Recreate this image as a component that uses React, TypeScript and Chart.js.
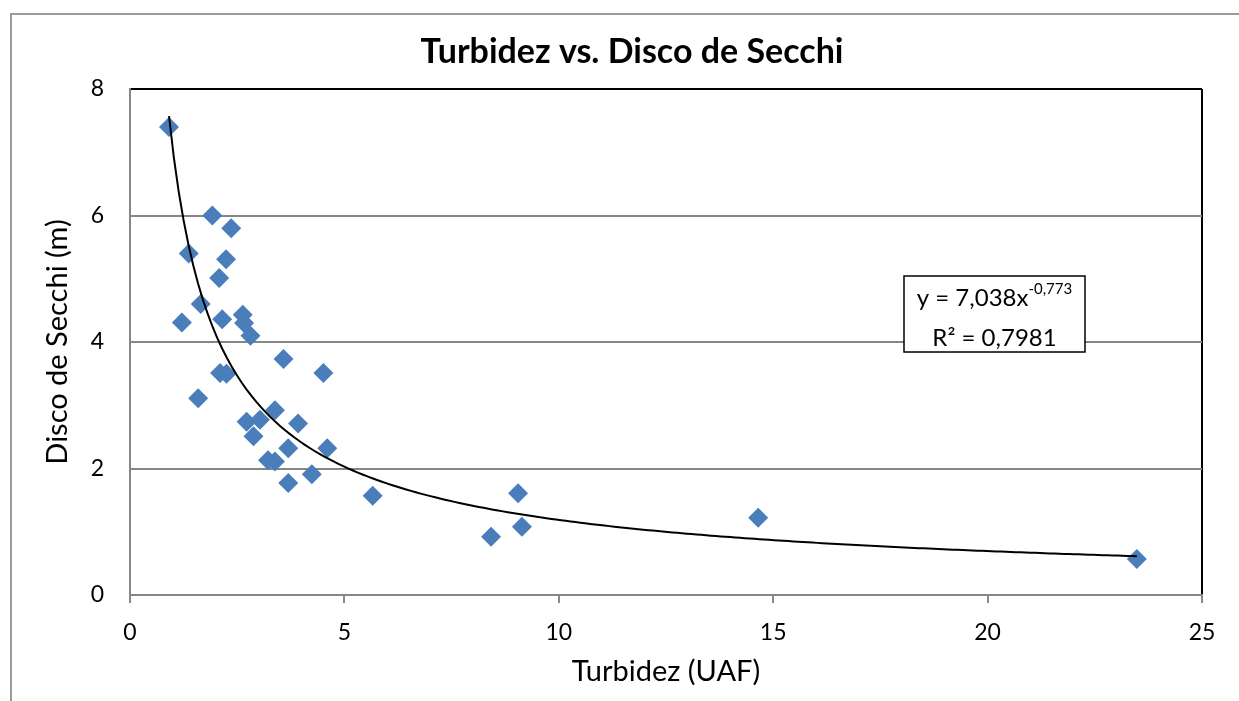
import React, { useEffect, useRef } from "react";
import { Chart, registerables } from "chart.js";

Chart.register(...registerables);

const TITLE = "Turbidez vs. Disco de Secchi";
const X_TITLE = "Turbidez (UAF)";
const Y_TITLE = "Disco de Secchi (m)";
const EQ_MAIN = "y = 7,038x";
const EQ_SUP = "-0,773";
const EQ_R2 = "R² = 0,7981";

const turbidez = [
  0.91, 1.92, 2.36, 1.37, 2.24, 2.08, 1.65, 1.21, 2.15, 2.63, 2.66, 2.81,
  3.58, 4.51, 2.1, 2.25, 1.59, 3.38, 2.72, 3.03, 3.92, 2.88, 3.69, 4.6,
  3.22, 3.38, 4.24, 3.69, 5.66, 8.42, 9.05, 9.14, 14.65, 23.48,
];
const secchi = [
  7.4, 6.0, 5.8, 5.4, 5.31, 5.01, 4.6, 4.31, 4.36, 4.43, 4.3, 4.1,
  3.73, 3.51, 3.51, 3.5, 3.11, 2.92, 2.74, 2.77, 2.71, 2.51, 2.32, 2.32,
  2.13, 2.11, 1.91, 1.77, 1.57, 0.92, 1.61, 1.08, 1.22, 0.57,
];

// Power trendline coefficients shown in the chart: y = A * x^B
const TREND_A = 7.038;
const TREND_B = -0.773;
const TREND_STEPS = 200;

const X_MIN = 0;
const X_MAX = 25;
const X_STEP = 5;
const Y_MIN = 0;
const Y_MAX = 8;
const Y_STEP = 2;

const FONT = "Lato, 'Open Sans', sans-serif";

export default function App() {
  const ref = useRef<HTMLCanvasElement | null>(null);

  useEffect(() => {
    const canvas = ref.current;
    if (!canvas) return;

    const points = turbidez.map((x, i) => ({ x, y: secchi[i] }));
    const xMin = Math.min(...turbidez);
    const xMax = Math.max(...turbidez);
    const trend: { x: number; y: number }[] = [];
    for (let i = 0; i <= TREND_STEPS; i++) {
      const x = xMin + ((xMax - xMin) * i) / TREND_STEPS;
      trend.push({ x, y: TREND_A * Math.pow(x, TREND_B) });
    }

    const decor = {
      id: "decor",
      beforeDraw(chart: any) {
        const ctx = chart.ctx;
        ctx.save();
        ctx.fillStyle = "#ffffff";
        ctx.fillRect(0, 0, chart.width, chart.height);
        ctx.strokeStyle = "#9a9a9a";
        ctx.lineWidth = 2;
        ctx.strokeRect(11, 14, chart.width + 50, chart.height + 50);
        ctx.restore();
      },
      afterDraw(chart: any) {
        const ctx = chart.ctx;
        ctx.save();
        // title
        ctx.fillStyle = "#000";
        ctx.font = `bold 34px ${FONT}`;
        ctx.textAlign = "center";
        ctx.textBaseline = "middle";
        ctx.fillText(TITLE, 632, 52);

        // equation box
        const bx = 904, by = 276, bw = 181, bh = 76;
        ctx.fillStyle = "#fff";
        ctx.fillRect(bx, by, bw, bh);
        ctx.strokeStyle = "#000";
        ctx.lineWidth = 1.5;
        ctx.strokeRect(bx, by, bw, bh);

        ctx.fillStyle = "#000";
        ctx.textAlign = "left";
        ctx.textBaseline = "alphabetic";
        ctx.font = `24px ${FONT}`;
        const mainW = ctx.measureText(EQ_MAIN).width;
        ctx.font = `15px ${FONT}`;
        const supW = ctx.measureText(EQ_SUP).width;
        const startX = bx + bw / 2 - (mainW + supW) / 2;
        ctx.font = `24px ${FONT}`;
        ctx.fillText(EQ_MAIN, startX, 306);
        ctx.font = `15px ${FONT}`;
        ctx.fillText(EQ_SUP, startX + mainW, 294);
        ctx.font = `24px ${FONT}`;
        ctx.textAlign = "center";
        ctx.fillText(EQ_R2, bx + bw / 2, 346);
        ctx.restore();
      },
    };

    const chart = new Chart(canvas, {
      type: "scatter",
      data: {
        datasets: [
          {
            type: "line",
            label: "Trend",
            data: trend,
            borderColor: "#000",
            borderWidth: 2,
            pointRadius: 0,
            fill: false,
            tension: 0,
            order: 0,
          } as any,
          {
            label: "Datos",
            data: points,
            pointStyle: "rectRot",
            pointRadius: 10,
            pointBackgroundColor: "#4A7EBB",
            pointBorderColor: "#4A7EBB",
            pointBorderWidth: 0,
            order: 1,
          },
        ],
      },
      options: {
        animation: false,
        responsive: false,
        maintainAspectRatio: false,
        layout: { padding: { left: 0, right: 37, top: 89, bottom: 0 } },
        plugins: {
          legend: { display: false },
          tooltip: { enabled: false },
          title: { display: false },
        },
        scales: {
          x: {
            type: "linear",
            min: X_MIN,
            max: X_MAX,
            ticks: {
              stepSize: X_STEP,
              color: "#000",
              font: { family: FONT, size: 23 },
              padding: 16,
              maxRotation: 0,
            },
            grid: {
              color: (c: any) =>
                c.tick && c.tick.value === X_MAX ? "#000" : "rgba(0,0,0,0)",
              lineWidth: 2,
              tickColor: "#8a8a8a",
              tickLength: 8,
              tickWidth: 2,
            },
            border: { color: "#868686", width: 2 },
            title: {
              display: true,
              text: X_TITLE,
              color: "#000",
              font: { family: FONT, size: 29 },
              padding: { top: 0, bottom: 12 },
            },
            afterFit: (scale: any) => {
              scale.height = 106;
            },
          },
          y: {
            type: "linear",
            min: Y_MIN,
            max: Y_MAX,
            ticks: {
              stepSize: Y_STEP,
              color: "#000",
              font: { family: FONT, size: 23 },
              padding: 26,
            },
            grid: {
              color: (c: any) =>
                c.tick && c.tick.value === Y_MAX ? "#000" : "#868686",
              lineWidth: 2,
              drawTicks: false,
            },
            border: { color: "#868686", width: 2 },
            title: {
              display: true,
              text: Y_TITLE,
              color: "#000",
              font: { family: FONT, size: 29 },
              padding: { top: 40, bottom: 0 },
            },
            afterFit: (scale: any) => {
              scale.width = 130;
            },
          },
        },
      },
      plugins: [decor],
    });

    return () => chart.destroy();
  }, []);

  return (
    <div style={{ position: "absolute", left: 0, top: 0, width: 1239, height: 701 }}>
      <canvas ref={ref} width={1239} height={701} style={{ display: "block" }} />
    </div>
  );
}
